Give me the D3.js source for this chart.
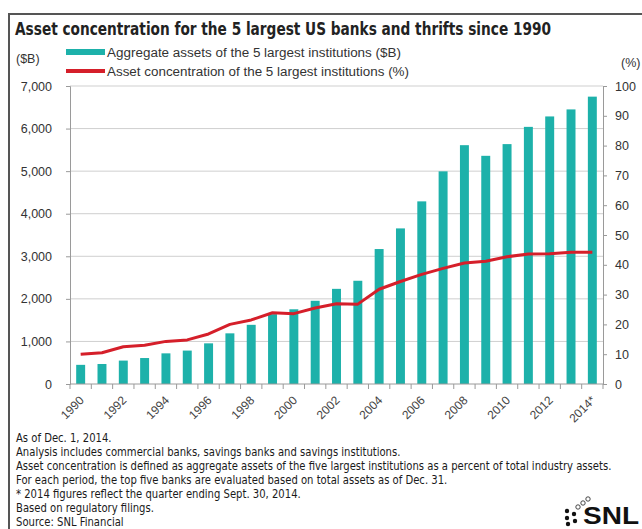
<!DOCTYPE html>
<html>
<head>
<meta charset="utf-8">
<script src="https://cdn.jsdelivr.net/npm/d3@7"></script>
<style>
  html, body { margin: 0; padding: 0; background: #fff; }
  svg { display: block; }
</style>
</head>
<body>
<svg id="chart" width="642" height="529"></svg>
<script>
// data
const years = d3.range(1990, 2015).map(String);
const yearLabels = ["1990", "1992", "1994", "1996", "1998", "2000", "2002", "2004", "2006", "2008", "2010", "2012", "2014*"];
const assets = [450, 470, 550, 610, 720, 785, 955, 1190, 1390, 1640, 1755, 1955, 2235, 2425,
                3170, 3655, 4290, 4995, 5610, 5360, 5635, 6040, 6285, 6450, 6750];
const concentration = [10.0, 10.5, 12.5, 13.0, 14.3, 14.8, 16.8, 20.0, 21.5, 23.9, 23.6, 25.5, 26.9, 26.8,
                       31.8, 34.4, 36.8, 38.8, 40.6, 41.2, 42.7, 43.6, 43.7, 44.2, 44.2];
const leftTicks = [0, 1000, 2000, 3000, 4000, 5000, 6000, 7000];
const rightTicks = [0, 10, 20, 30, 40, 50, 60, 70, 80, 90, 100];
const notes = [
    "As of Dec. 1, 2014.",
    "Analysis includes commercial banks, savings banks and savings institutions.",
    "Asset concentration is defined as aggregate assets of the five largest institutions as a percent of total industry assets.",
    "For each period, the top five banks are evaluated based on total assets as of Dec. 31.",
    "* 2014 figures reflect the quarter ending Sept. 30, 2014.",
    "Based on regulatory filings.",
    "Source: SNL Financial"
];

const teal = "#1db1aa", red = "#d51f2a", gridCol = "#cfcfcf", axisCol = "#9a9a9a", textCol = "#333";
const sans = "Arial, 'Liberation Sans', sans-serif";
const narrow = "'Liberation Sans Narrow', 'DejaVu Sans Condensed', 'Open Sans', sans-serif";

const svg = d3.select("#chart");

// frame round the whole graphic
svg.append("path")
    .attr("d", "M9,540V14H650")
    .attr("fill", "none")
    .attr("stroke", "#555")
    .attr("stroke-width", 2);

svg.append("text")
    .attr("x", 15).attr("y", 35)
    .attr("font-family", narrow).attr("font-weight", "bold").attr("font-size", 17.5)
    .attr("fill", "#222")
    .attr("textLength", 536).attr("lengthAdjust", "spacingAndGlyphs")
    .text("Asset concentration for the 5 largest US banks and thrifts since 1990");

// scales
const x = d3.scaleBand().domain(years).range([70, 603]).paddingInner(0.58).paddingOuter(0.29);
const yL = d3.scaleLinear().domain([0, 7000]).range([384, 86]);
const yR = d3.scaleLinear().domain([0, 100]).range([384, 86]);

// grid lines
svg.append("g").selectAll("line")
    .data(leftTicks.slice(1))
    .join("line")
    .attr("x1", 70).attr("x2", 603)
    .attr("y1", d => yL(d)).attr("y2", d => yL(d))
    .attr("stroke", gridCol).attr("stroke-width", 1);

// left axis
const gl = svg.append("g")
    .attr("transform", "translate(70,0)")
    .call(d3.axisLeft(yL).tickValues(leftTicks).tickSize(4).tickPadding(14).tickFormat(d3.format(",")));
gl.selectAll("text").attr("font-family", sans).attr("font-size", 12.5).attr("fill", textCol);

// right axis
const gr = svg.append("g")
    .attr("transform", "translate(603,0)")
    .call(d3.axisRight(yR).tickValues(rightTicks).tickSize(4).tickPadding(8));
gr.selectAll("text").attr("font-family", sans).attr("font-size", 12.5).attr("fill", textCol);

[gl, gr].forEach(g => {
    g.select(".domain").attr("stroke", axisCol);
    g.selectAll(".tick line").attr("stroke", axisCol);
});

// bars
svg.append("g").selectAll("rect")
    .data(assets)
    .join("rect")
    .attr("x", (d, i) => x(years[i]))
    .attr("y", d => yL(d))
    .attr("width", x.bandwidth())
    .attr("height", d => yL(0) - yL(d))
    .attr("fill", teal);

// bottom axis with ticks between the bars
const edges = years.map(y => x(y) + x.bandwidth() / 2 - x.step() / 2).concat([603]);
const gb = svg.append("g");
gb.append("line")
    .attr("x1", 70).attr("x2", 603).attr("y1", 384).attr("y2", 384)
    .attr("stroke", axisCol);
gb.selectAll(".tk").data(edges).join("line")
    .attr("class", "tk")
    .attr("x1", d => d).attr("x2", d => d)
    .attr("y1", 384).attr("y2", 389)
    .attr("stroke", axisCol);

const labelYears = years.filter((y, i) => i % 2 === 0);
svg.append("g").selectAll("text")
    .data(yearLabels)
    .join("text")
    .attr("transform", (d, i) => `translate(${x(labelYears[i]) + x.bandwidth() / 2 + 4},401) rotate(-45)`)
    .attr("text-anchor", "end")
    .attr("font-family", sans).attr("font-size", 12).attr("fill", "#444")
    .text(d => d);

// concentration line
const line = d3.line()
    .x((d, i) => x(years[i]) + x.bandwidth() / 2)
    .y(d => yR(d));
svg.append("path")
    .datum(concentration)
    .attr("d", line)
    .attr("fill", "none")
    .attr("stroke", red)
    .attr("stroke-width", 3)
    .attr("stroke-linejoin", "round");

// axis titles
svg.append("text").attr("x", 16).attr("y", 63)
    .attr("font-family", sans).attr("font-size", 12.5).attr("fill", textCol).text("($B)");
svg.append("text").attr("x", 621).attr("y", 67)
    .attr("font-family", sans).attr("font-size", 12.5).attr("fill", textCol).text("(%)");

// legend
const legend = svg.append("g");
legend.append("rect").attr("x", 66).attr("y", 49).attr("width", 39).attr("height", 6).attr("fill", teal);
legend.append("line").attr("x1", 66).attr("x2", 105).attr("y1", 71).attr("y2", 71)
    .attr("stroke", red).attr("stroke-width", 4);
legend.append("text").attr("x", 107).attr("y", 57)
    .attr("font-family", sans).attr("font-size", 12.5).attr("fill", textCol)
    .attr("textLength", 294).attr("lengthAdjust", "spacingAndGlyphs")
    .text("Aggregate assets of the 5 largest institutions ($B)");
legend.append("text").attr("x", 107).attr("y", 76)
    .attr("font-family", sans).attr("font-size", 12.5).attr("fill", textCol)
    .attr("textLength", 302).attr("lengthAdjust", "spacingAndGlyphs")
    .text("Asset concentration of the 5 largest institutions (%)");

// footnotes: one narrow scale for all lines, fitted to the longest line
const fn = svg.append("g");
const fnText = fn.selectAll("text")
    .data(notes)
    .join("text")
    .attr("x", 0)
    .attr("y", (d, i) => 442 + i * 14)
    .attr("font-family", narrow).attr("font-size", 11.5).attr("fill", "#1a1a1a")
    .text(d => d);
const longest = d3.max(fnText.nodes(), n => n.getComputedTextLength());
fn.attr("transform", `translate(16,0) scale(${596 / longest},1)`);

// SNL logo
const logo = svg.append("g").attr("transform", "translate(583,524)");
logo.append("text")
    .attr("font-family", sans).attr("font-weight", "bold").attr("font-size", 24).attr("fill", "#111")
    .attr("textLength", 56).attr("lengthAdjust", "spacingAndGlyphs")
    .text("SNL");
const dots = [[-16, -13, 1], [-9, -10, 1], [-16, -6, 1], [-8, -3, 1], [-15, 0, 1],
              [-5, -17, 0], [0, -21, 0], [5, -25, 0]];
logo.selectAll("circle").data(dots).join("circle")
    .attr("cx", d => d[0]).attr("cy", d => d[1]).attr("r", 2.2)
    .attr("fill", d => d[2] ? "#111" : "#fff")
    .attr("stroke", "#333").attr("stroke-width", d => d[2] ? 0 : 0.9);
</script>
</body>
</html>
